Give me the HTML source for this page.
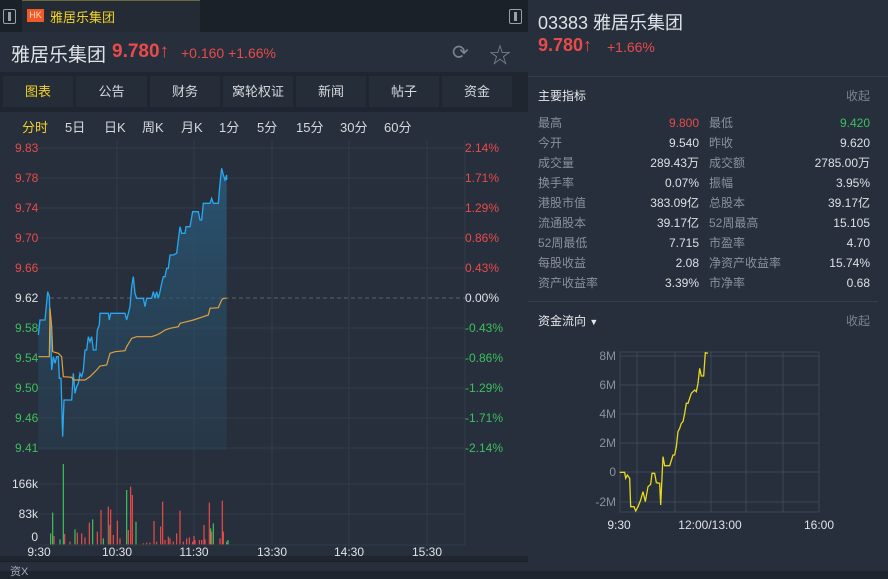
<!DOCTYPE html>
<html><head><meta charset="utf-8"><style>
*{margin:0;padding:0;box-sizing:border-box}
body{width:888px;height:571px;overflow:hidden;background:#1e252e;font-family:"Liberation Sans","Noto Sans CJK SC",sans-serif;position:relative;color:#d0d4da}
.a{position:absolute;white-space:nowrap}
.tab{position:absolute;top:76px;height:31px;background:#252d38;font-size:13px;color:#d6d9de;text-align:center;line-height:31px}
.pd{position:absolute;top:117px;font-size:13px;color:#d6d9de}
</style></head><body>
<div class="a" style="left:0;top:0;width:528px;height:32px;background:#1b2129"></div>
<div class="a" style="left:22px;top:0;width:178px;height:32px;background:#242b35;border-top:1px solid #6b6a3a"></div>
<div class="a" style="left:3px;top:9px;width:13px;height:15px;border:1.5px solid #9aa0a8;border-radius:2px"></div>
<div class="a" style="left:8px;top:12px;width:3px;height:9px;background:#9aa0a8"></div>
<div class="a" style="left:509px;top:9px;width:13px;height:15px;border:1.5px solid #9aa0a8;border-radius:2px"></div>
<div class="a" style="left:514px;top:12px;width:3px;height:9px;background:#9aa0a8"></div>
<div class="a" style="left:27px;top:9px;width:17px;height:13px;background:#f05a28;color:#ffd9c0;font-size:9px;line-height:13px;text-align:center">HK</div>
<div class="a" style="left:50px;top:7px;font-size:13px;color:#f2d226">雅居乐集团</div>
<div class="a" style="left:0;top:32px;width:528px;height:40px;background:#262f3b"></div>
<div class="a" style="left:11px;top:40px;font-size:19px;color:#dfe2e6">雅居乐集团</div>
<div class="a" style="left:112px;top:41px;font-size:19px;color:#e84b4b;font-weight:bold">9.780↑</div>
<div class="a" style="left:181px;top:45px;font-size:14px;color:#e84b4b">+0.160 +1.66%</div>
<div class="a" style="left:452px;top:40px;font-size:20px;color:#7b838e">⟳</div>
<div class="a" style="left:489px;top:38px;font-size:22px;color:#7b838e">☆</div>
<div class="a" style="left:0;top:72px;width:528px;height:484px;background:#262f3b"></div>
<div class="a" style="left:0;top:72px;width:528px;height:40px;background:#1f262f"></div>
<div class="tab" style="left:3px;width:70px;color:#f2d226">图表</div>
<div class="tab" style="left:76px;width:71px">公告</div>
<div class="tab" style="left:150px;width:70px">财务</div>
<div class="tab" style="left:223px;width:70px">窝轮权证</div>
<div class="tab" style="left:296px;width:70px">新闻</div>
<div class="tab" style="left:369px;width:70px">帖子</div>
<div class="tab" style="left:442px;width:70px">资金</div>
<div class="pd" style="left:22px;color:#f2d226">分时</div>
<div class="pd" style="left:65px">5日</div>
<div class="pd" style="left:104px">日K</div>
<div class="pd" style="left:142px">周K</div>
<div class="pd" style="left:181px">月K</div>
<div class="pd" style="left:219px">1分</div>
<div class="pd" style="left:257px">5分</div>
<div class="pd" style="left:296px">15分</div>
<div class="pd" style="left:340px">30分</div>
<div class="pd" style="left:384px">60分</div>
<svg class="a" style="left:0;top:0" width="528" height="571" font-family="Liberation Sans, sans-serif" font-size="12">
<defs><linearGradient id="g" x1="0" y1="0" x2="0" y2="1"><stop offset="0" stop-color="#2a5878" stop-opacity="0.9"/><stop offset="1" stop-color="#2a4a62" stop-opacity="0.3"/></linearGradient></defs>
<g stroke="#323c49" stroke-width="1">
<line x1="38" y1="148" x2="465" y2="148"/><line x1="38" y1="178" x2="465" y2="178"/><line x1="38" y1="208" x2="465" y2="208"/><line x1="38" y1="238" x2="465" y2="238"/><line x1="38" y1="268" x2="465" y2="268"/><line x1="38" y1="328" x2="465" y2="328"/><line x1="38" y1="358" x2="465" y2="358"/><line x1="38" y1="388" x2="465" y2="388"/><line x1="38" y1="418" x2="465" y2="418"/><line x1="38" y1="448" x2="465" y2="448"/>
<line x1="38" y1="484" x2="465" y2="484"/><line x1="38" y1="514" x2="465" y2="514"/><line x1="38" y1="545" x2="465" y2="545"/>
<line x1="117" y1="140" x2="117" y2="545"/><line x1="194" y1="140" x2="194" y2="545"/><line x1="272" y1="140" x2="272" y2="545"/><line x1="349" y1="140" x2="349" y2="545"/><line x1="427" y1="140" x2="427" y2="545"/><line x1="465" y1="140" x2="465" y2="545"/>
</g>
<line x1="50" y1="298" x2="465" y2="298" stroke="#5a626d" stroke-dasharray="4,3"/>
<g text-anchor="start">
<text x="15" y="152" fill="#e84b4b">9.83</text><text x="15" y="182" fill="#e84b4b">9.78</text><text x="15" y="212" fill="#e84b4b">9.74</text><text x="15" y="242" fill="#e84b4b">9.70</text><text x="15" y="272" fill="#e84b4b">9.66</text><text x="15" y="302" fill="#dfe2e6">9.62</text><text x="15" y="332" fill="#3fbf5f">9.58</text><text x="15" y="362" fill="#3fbf5f">9.54</text><text x="15" y="392" fill="#3fbf5f">9.50</text><text x="15" y="422" fill="#3fbf5f">9.46</text><text x="15" y="452" fill="#3fbf5f">9.41</text>
<text x="465" y="152" fill="#e84b4b">2.14%</text><text x="465" y="182" fill="#e84b4b">1.71%</text><text x="465" y="212" fill="#e84b4b">1.29%</text><text x="465" y="242" fill="#e84b4b">0.86%</text><text x="465" y="272" fill="#e84b4b">0.43%</text><text x="465" y="302" fill="#dfe2e6">0.00%</text><text x="465" y="332" fill="#3fbf5f">-0.43%</text><text x="465" y="362" fill="#3fbf5f">-0.86%</text><text x="465" y="392" fill="#3fbf5f">-1.29%</text><text x="465" y="422" fill="#3fbf5f">-1.71%</text><text x="465" y="452" fill="#3fbf5f">-2.14%</text>
</g>
<g text-anchor="end" fill="#dfe2e6"><text x="38" y="488">166k</text><text x="38" y="518">83k</text><text x="38" y="541">0</text></g>
<g text-anchor="middle" fill="#dfe2e6"><text x="39" y="556">9:30</text><text x="117" y="556">10:30</text><text x="194" y="556">11:30</text><text x="272" y="556">13:30</text><text x="349" y="556">14:30</text><text x="427" y="556">15:30</text></g>
<g transform="translate(0,140) scale(0.33333)">
<polygon fill="url(#g)" points="115,585 120,540 135,540 143,455 148,470 152,590 155,690 160,650 165,670 170,650 175,650 178,715 183,715 188,890 192,780 215,780 220,700 225,760 230,740 235,730 240,700 245,710 250,690 255,630 260,630 265,590 270,605 275,590 280,630 288,630 292,570 298,555 300,520 325,520 328,540 332,520 375,520 380,540 385,520 390,500 395,440 400,410 405,460 410,475 430,475 435,500 440,475 455,475 460,455 465,475 470,455 475,475 480,455 485,430 490,410 495,410 500,385 505,385 510,345 520,345 530,340 535,300 540,260 545,280 555,280 558,260 570,260 578,215 595,215 600,240 605,240 610,190 630,190 635,175 640,190 655,190 660,130 665,85 670,105 675,120 680,105 680,930 115,930"/>
<polyline fill="none" stroke="#29a8f0" stroke-width="1.3" vector-effect="non-scaling-stroke" points="115,585 120,540 135,540 143,455 148,470 152,590 155,690 160,650 165,670 170,650 175,650 178,715 183,715 188,890 192,780 215,780 220,700 225,760 230,740 235,730 240,700 245,710 250,690 255,630 260,630 265,590 270,605 275,590 280,630 288,630 292,570 298,555 300,520 325,520 328,540 332,520 375,520 380,540 385,520 390,500 395,440 400,410 405,460 410,475 430,475 435,500 440,475 455,475 460,455 465,475 470,455 475,475 480,455 485,430 490,410 495,410 500,385 505,385 510,345 520,345 530,340 535,300 540,260 545,280 555,280 558,260 570,260 578,215 595,215 600,240 605,240 610,190 630,190 635,175 640,190 655,190 660,130 665,85 670,105 675,120 680,105 680,120"/>
<polyline fill="none" stroke="#e0a040" stroke-width="1.2" vector-effect="non-scaling-stroke" points="115,650 148,650 150,505 155,560 158,635 175,640 185,650 190,710 215,712 220,720 255,720 270,710 280,700 290,690 300,678 320,675 330,640 345,635 375,632 380,620 395,595 410,590 455,590 470,585 480,580 495,570 510,565 535,560 540,550 580,540 610,530 625,525 630,505 655,503 665,480 670,475 680,475"/>
<path stroke="#3fbf5f" stroke-width="1.2" vector-effect="non-scaling-stroke" d="M152 1213V1180M158 1213V1118M180 1213V1198M190 1213V972M225 1213V1168M278 1213V1138M310 1213V1195M330 1213V1155M380 1213V1050M408 1213V1145M632 1213V1165M640 1213V1150M680 1213V1205M684 1213V1200"/>
<path stroke="#e84b4b" stroke-width="1.2" vector-effect="non-scaling-stroke" d="M162 1213V1188M194 1213V1182M210 1213V1205M232 1213V1178M245 1213V1180M255 1213V1192M268 1213V1148M292 1213V1175M303 1213V1110M325 1213V1100M332 1213V1108M340 1213V1185M352 1213V1142M360 1213V1195M385 1213V1170M392 1213V1040M397 1213V1065M430 1213V1210M440 1213V1208M450 1213V1208M462 1213V1143M470 1213V1205M482 1213V1160M488 1213V1085M495 1213V1200M505 1213V1190M510 1213V1195M520 1213V1205M530 1213V1180M540 1213V1112M550 1213V1205M560 1213V1195M568 1213V1192M578 1213V1205M582 1213V1188M585 1213V1200M598 1213V1200M605 1213V1200M612 1213V1155M615 1213V1198M628 1213V1088M635 1213V1175M660 1213V1195M667 1213V1082M670 1213V1175"/>
</g>
</svg>
<div class="a" style="left:0;top:561px;width:528px;height:10px;background:#262f3b;border-top:1px solid #1b2129"></div>
<div class="a" style="left:0;top:556px;width:528px;height:5px;background:#1f262f"></div>
<div class="a" style="left:10px;top:563px;font-size:11px;color:#aab">资X</div>
<div class="a" style="left:528px;top:0;width:360px;height:571px;background:#262f3b"></div>
<div class="a" style="left:528px;top:76px;width:360px;height:1px;background:#343e4b"></div>
<div class="a" style="left:528px;top:301px;width:350px;height:1px;background:#343e4b"></div>
<div class="a" style="left:538px;top:9px;font-size:18px;color:#dfe2e6">03383 雅居乐集团</div>
<div class="a" style="left:538px;top:35px;font-size:18px;color:#e84b4b;font-weight:bold">9.780↑</div>
<div class="a" style="left:607px;top:39px;font-size:14px;color:#e84b4b">+1.66%</div>
<div class="a" style="left:538px;top:87px;font-size:12px;color:#e6e8eb">主要指标</div>
<div class="a" style="left:846px;top:87px;font-size:12px;color:#7b838e">收起</div>
<div class="a" style="left:538px;top:312px;font-size:12px;color:#e6e8eb">资金流向 <span style="font-size:9px">▼</span></div>
<div class="a" style="left:846px;top:312px;font-size:12px;color:#7b838e">收起</div>
<div class="a" style="left:538px;top:113px;line-height:20px;font-size:12px;color:#8a919c">最高<br>今开<br>成交量<br>换手率<br>港股市值<br>流通股本<br>52周最低<br>每股收益<br>资产收益率</div>
<div class="a" style="left:599px;top:113px;width:100px;text-align:right;line-height:20px;font-size:12px;color:#dde0e4"><span style="color:#e84b4b">9.800</span><br>9.540<br>289.43万<br>0.07%<br>383.09亿<br>39.17亿<br>7.715<br>2.08<br>3.39%</div>
<div class="a" style="left:709px;top:113px;line-height:20px;font-size:12px;color:#8a919c">最低<br>昨收<br>成交额<br>振幅<br>总股本<br>52周最高<br>市盈率<br>净资产收益率<br>市净率</div>
<div class="a" style="left:770px;top:113px;width:100px;text-align:right;line-height:20px;font-size:12px;color:#dde0e4"><span style="color:#3fbf5f">9.420</span><br>9.620<br>2785.00万<br>3.95%<br>39.17亿<br>15.105<br>4.70<br>15.74%<br>0.68</div>
<svg class="a" style="left:528px;top:300px" width="360" height="271" font-family="Liberation Sans, sans-serif" font-size="12">
<g stroke="#3c4654" stroke-width="1">
<rect x="92" y="52" width="199" height="160" fill="none"/>
<line x1="92" y1="56" x2="291" y2="56"/><line x1="92" y1="85" x2="291" y2="85"/><line x1="92" y1="114" x2="291" y2="114"/><line x1="92" y1="143" x2="291" y2="143"/><line x1="92" y1="172" x2="291" y2="172"/><line x1="92" y1="202" x2="291" y2="202"/>
<line x1="109" y1="52" x2="109" y2="212"/><line x1="147" y1="52" x2="147" y2="212"/><line x1="183" y1="52" x2="183" y2="212"/><line x1="218" y1="52" x2="218" y2="212"/><line x1="255" y1="52" x2="255" y2="212"/>
</g>
<g text-anchor="end" fill="#8a919c"><text x="88" y="60">8M</text><text x="88" y="89">6M</text><text x="88" y="118">4M</text><text x="88" y="147">2M</text><text x="88" y="176">0</text><text x="88" y="206">-2M</text></g>
<g text-anchor="middle" fill="#dfe2e6"><text x="91" y="229">9:30</text><text x="182" y="229">12:00/13:00</text><text x="291" y="229">16:00</text></g>
<g transform="scale(0.33333)"><polyline fill="none" stroke="#e8d820" stroke-width="1.3" vector-effect="non-scaling-stroke" points="275,517 290,517 293,535 298,525 305,535 308,620 318,620 323,633 330,620 338,600 345,575 352,605 360,560 368,553 372,520 380,520 385,548 395,550 398,615 405,470 410,497 425,497 435,465 440,465 445,440 450,395 455,385 460,370 465,365 470,340 475,310 480,310 485,295 490,280 500,270 505,275 510,250 515,205 520,228 527,228 532,158 540,160"/></g>
</svg>
</body></html>
